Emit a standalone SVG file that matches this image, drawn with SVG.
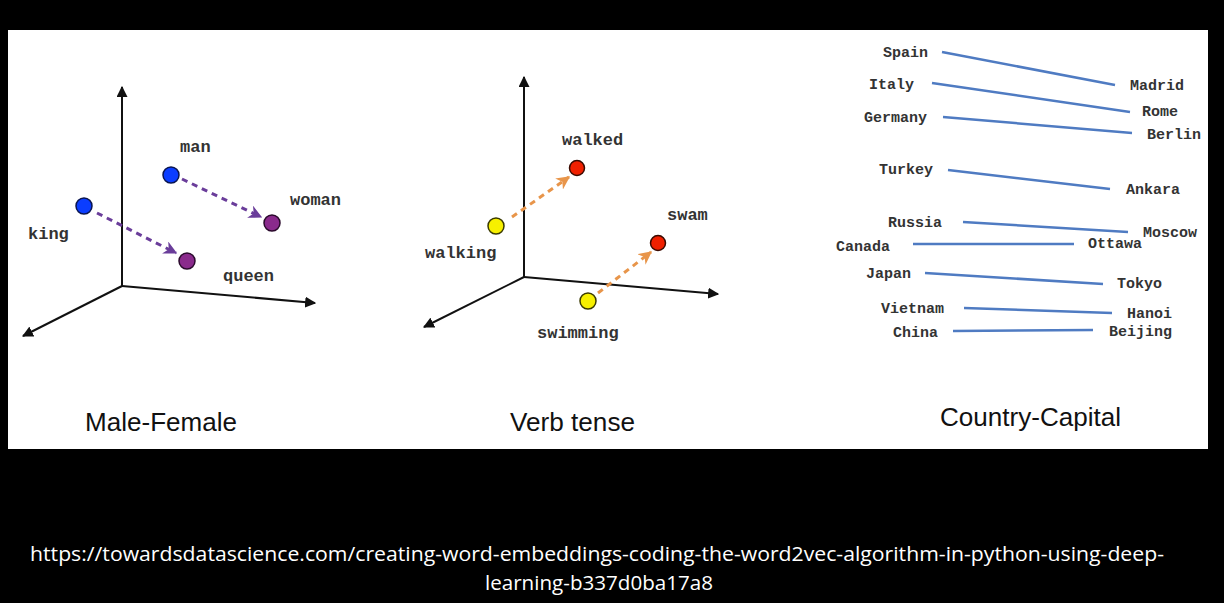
<svg xmlns="http://www.w3.org/2000/svg" width="1224" height="603" viewBox="0 0 1224 603">
<style>
.bg{fill:#000}
.panel{fill:#fff}
.axis{stroke:#111;stroke-width:2;fill:none}
.word{font-family:"Liberation Mono","Courier New",monospace;font-weight:bold;font-size:17px;fill:#333}
.cword{font-family:"Liberation Mono","Courier New",monospace;font-weight:bold;font-size:15px;fill:#333}
.title{font-family:"Liberation Sans",Arial,sans-serif;font-size:25px;fill:#111}
.url{font-family:"Open Sans","Noto Sans",sans-serif;font-size:20px;fill:#fff}
.dp{stroke:#6a3d9a;stroke-width:3;stroke-dasharray:6,5;fill:none}
.do{stroke:#e8954a;stroke-width:3;stroke-dasharray:6,5;fill:none}
.cap{stroke:#4f7bc2;stroke-width:2.5;fill:none}
.blue{fill:#0b3dff;stroke:#0a1550;stroke-width:1.5}
.purple{fill:#8a2a8c;stroke:#2a0a2c;stroke-width:1.5}
.red{fill:#f02000;stroke:#3a0a00;stroke-width:1.5}
.yellow{fill:#f7f000;stroke:#3a3a00;stroke-width:1.5}
</style>
<defs>
<marker id="ax" viewBox="0 0 10 10" refX="9" refY="5" markerWidth="5.5" markerHeight="5.5" orient="auto" markerUnits="strokeWidth">
<path d="M0,0 L10,5 L0,10 z" fill="#111"/>
</marker>
<marker id="ap" viewBox="0 0 10 10" refX="9" refY="5" markerWidth="4.5" markerHeight="4.5" orient="auto" markerUnits="strokeWidth">
<path d="M0,0 L10,5 L0,10 L3,5 z" fill="#6a3d9a"/>
</marker>
<marker id="ao" viewBox="0 0 10 10" refX="9" refY="5" markerWidth="4.5" markerHeight="4.5" orient="auto" markerUnits="strokeWidth">
<path d="M0,0 L10,5 L0,10 L3,5 z" fill="#e8954a"/>
</marker>
</defs>
<rect class="bg" x="0" y="0" width="1224" height="603"/>
<rect class="panel" x="8" y="30" width="1200" height="419"/>

<g id="axes1">
<line class="axis" x1="122" y1="286" x2="122" y2="87" marker-end="url(#ax)"/>
<line class="axis" x1="122" y1="286" x2="315" y2="303" marker-end="url(#ax)"/>
<line class="axis" x1="122" y1="286" x2="23" y2="336" marker-end="url(#ax)"/>
</g>
<g id="axes2">
<line class="axis" x1="524" y1="277" x2="524" y2="77" marker-end="url(#ax)"/>
<line class="axis" x1="524" y1="277" x2="718" y2="294" marker-end="url(#ax)"/>
<line class="axis" x1="524" y1="277" x2="424" y2="327" marker-end="url(#ax)"/>
</g>

<g id="connectors">
<line class="dp" x1="182" y1="179" x2="261" y2="217" marker-end="url(#ap)"/>
<line class="dp" x1="97" y1="213" x2="176" y2="253" marker-end="url(#ap)"/>
<line class="do" x1="512" y1="217" x2="569" y2="177" marker-end="url(#ao)"/>
<line class="do" x1="598" y1="293" x2="651" y2="252" marker-end="url(#ao)"/>
<line class="cap" x1="942" y1="52" x2="1115" y2="85"/>
<line class="cap" x1="932" y1="83" x2="1130" y2="112"/>
<line class="cap" x1="943" y1="117" x2="1132" y2="133"/>
<line class="cap" x1="948" y1="170" x2="1110" y2="189"/>
<line class="cap" x1="963" y1="222" x2="1128" y2="232"/>
<line class="cap" x1="913" y1="244" x2="1074" y2="244"/>
<line class="cap" x1="925" y1="273" x2="1103" y2="284"/>
<line class="cap" x1="964" y1="308" x2="1112" y2="313"/>
<line class="cap" x1="953" y1="331" x2="1093" y2="330"/>
</g>

<g id="man"><circle class="blue" cx="171" cy="175" r="8"/><text class="word" x="180" y="152">man</text></g>
<g id="king"><circle class="blue" cx="84" cy="206" r="8"/><text class="word" x="28" y="239">king</text></g>
<g id="woman"><circle class="purple" cx="272" cy="223" r="8"/><text class="word" x="290" y="205">woman</text></g>
<g id="queen"><circle class="purple" cx="187" cy="261" r="8"/><text class="word" x="223" y="281">queen</text></g>

<g id="walked"><circle class="red" cx="577" cy="168" r="7.5"/><text class="word" x="562" y="145">walked</text></g>
<g id="walking"><circle class="yellow" cx="496" cy="226" r="8"/><text class="word" x="425" y="258">walking</text></g>
<g id="swam"><circle class="red" cx="658" cy="243" r="7.5"/><text class="word" x="667" y="220">swam</text></g>
<g id="swimming"><circle class="yellow" cx="588" cy="301" r="8"/><text class="word" x="537" y="338">swimming</text></g>

<g id="spain"><text class="cword" x="883" y="57">Spain</text></g>
<g id="madrid"><text class="cword" x="1130" y="90">Madrid</text></g>
<g id="italy"><text class="cword" x="869" y="89">Italy</text></g>
<g id="rome"><text class="cword" x="1142" y="116">Rome</text></g>
<g id="germany"><text class="cword" x="864" y="122">Germany</text></g>
<g id="berlin"><text class="cword" x="1147" y="139">Berlin</text></g>
<g id="turkey"><text class="cword" x="879" y="174">Turkey</text></g>
<g id="ankara"><text class="cword" x="1126" y="194">Ankara</text></g>
<g id="russia"><text class="cword" x="888" y="227">Russia</text></g>
<g id="moscow"><text class="cword" x="1143" y="237">Moscow</text></g>
<g id="canada"><text class="cword" x="836" y="251">Canada</text></g>
<g id="ottawa"><text class="cword" x="1088" y="248">Ottawa</text></g>
<g id="japan"><text class="cword" x="866" y="278">Japan</text></g>
<g id="tokyo"><text class="cword" x="1117" y="288">Tokyo</text></g>
<g id="vietnam"><text class="cword" x="881" y="313">Vietnam</text></g>
<g id="hanoi"><text class="cword" x="1127" y="318">Hanoi</text></g>
<g id="china"><text class="cword" x="893" y="337">China</text></g>
<g id="beijing"><text class="cword" x="1109" y="336">Beijing</text></g>

<g id="titles">
<text class="title" x="85" y="431" textLength="152" lengthAdjust="spacingAndGlyphs">Male-Female</text>
<text class="title" x="510" y="431" textLength="125" lengthAdjust="spacingAndGlyphs">Verb tense</text>
<text class="title" x="940" y="426" textLength="181" lengthAdjust="spacingAndGlyphs">Country-Capital</text>
</g>
<g id="source">
<text class="url" x="30" y="561" textLength="1134" lengthAdjust="spacingAndGlyphs">https://towardsdatascience.com/creating-word-embeddings-coding-the-word2vec-algorithm-in-python-using-deep-</text>
<text class="url" x="485" y="590" textLength="228" lengthAdjust="spacingAndGlyphs">learning-b337d0ba17a8</text>
</g>
</svg>
